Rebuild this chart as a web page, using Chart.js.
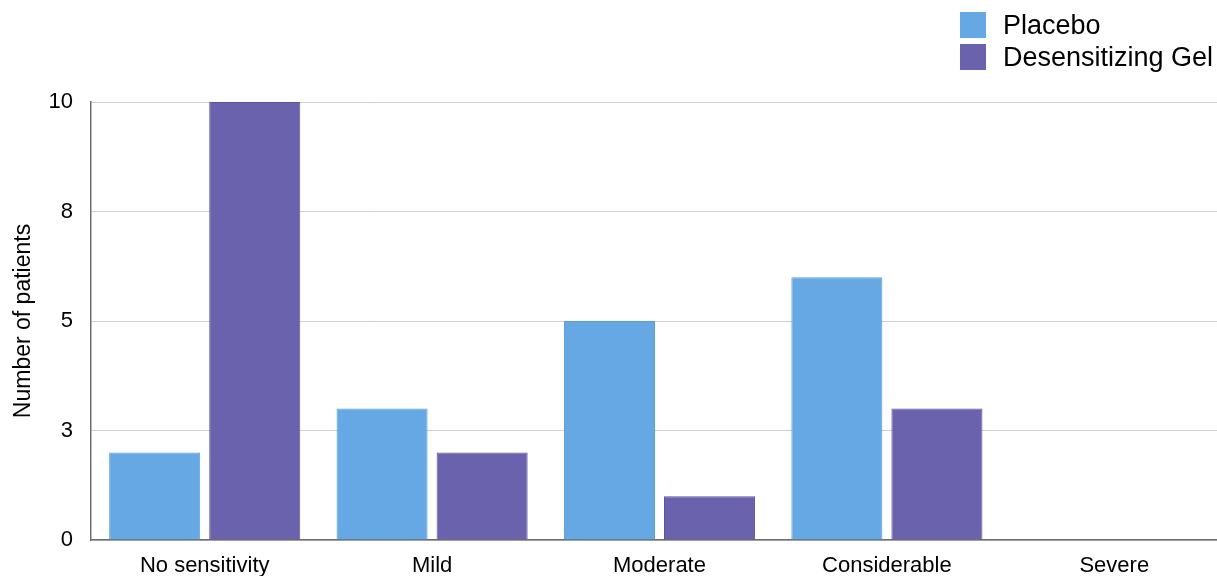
<!DOCTYPE html>
<html>
<head>
<meta charset="utf-8">
<script src="https://cdn.jsdelivr.net/npm/chart.js@4"></script>
<style>
  html, body { margin: 0; padding: 0; background: #fff; overflow: hidden; }
  #wrap { width: 1217px; height: 576px; overflow: hidden; }
</style>
</head>
<body>
<div id="wrap"><canvas id="sensitivity" width="1230" height="576"></canvas></div>
<script>
// sensitivity levels and patient counts per group
const categories = ['No sensitivity', 'Mild', 'Moderate', 'Considerable', 'Severe'];
const placebo = [2, 3, 5, 6, 0];
const gel = [10, 2, 1, 3, 0];
const yTicks = [0, 2.5, 5, 7.5, 10];

const FONT = '"Helvetica Neue", Helvetica, "Liberation Sans", Arial, sans-serif';

/*************************** legend drawn in the top right corner ***************************/
const boxLegend = {
    id: 'boxLegend',
    afterDraw(chart) {
        const ctx = chart.ctx;
        ctx.save();
        ctx.font = '27px ' + FONT;
        ctx.textBaseline = 'middle';
        chart.data.datasets.forEach((ds, i) => {
            let y = 12 + i * 32;
            ctx.fillStyle = ds.backgroundColor;
            ctx.fillRect(960, y, 26, 26);
            ctx.fillStyle = '#000';
            ctx.fillText(ds.label, 1003, y + 15);
        });
        ctx.restore();
    }
};

let ctx = document.getElementById('sensitivity');
let chart = new Chart(ctx, {
    type: 'bar',
    data: {
        labels: categories,
        datasets: [{
            label: 'Placebo',
            data: placebo,
            backgroundColor: '#65a8e3',
            borderColor: '#5b9bd6',
            borderWidth: 1,
            categoryPercentage: 0.88,
            barPercentage: 0.91
        }, {
            label: 'Desensitizing Gel',
            data: gel,
            backgroundColor: '#6b62ad',
            borderColor: '#5d559c',
            borderWidth: 1,
            categoryPercentage: 0.88,
            barPercentage: 0.91
        }]
    },
    options: {
        responsive: false,
        animation: false,
        layout: { padding: { top: 102, right: 2, bottom: 0, left: 0 } },
        plugins: {
            legend: { display: false },
            tooltip: { enabled: false }
        },
        scales: {
            x: {
                afterFit: (scale) => { scale.height = 36; },
                grid: { display: false },
                border: { display: true, color: '#6e6e6e', width: 1.5 },
                ticks: { color: '#000', padding: 5, font: { size: 22, family: FONT } }
            },
            y: {
                min: 0,
                max: 10,
                afterBuildTicks: (scale) => { scale.ticks = yTicks.map(v => ({ value: v })); },
                afterFit: (scale) => { scale.width = 91; },
                grid: { color: '#cfcfcf', lineWidth: 1, drawTicks: false },
                border: { display: true, color: '#6e6e6e', width: 1.5 },
                ticks: {
                    color: '#000',
                    padding: 18,
                    font: { size: 22, family: FONT },
                    callback: (v) => Math.round(v)
                },
                title: {
                    display: true,
                    text: 'Number of patients',
                    color: '#000',
                    padding: { top: 10, bottom: 0 },
                    font: { size: 23, family: FONT }
                }
            }
        }
    },
    plugins: [boxLegend]
});
</script>
</body>
</html>
